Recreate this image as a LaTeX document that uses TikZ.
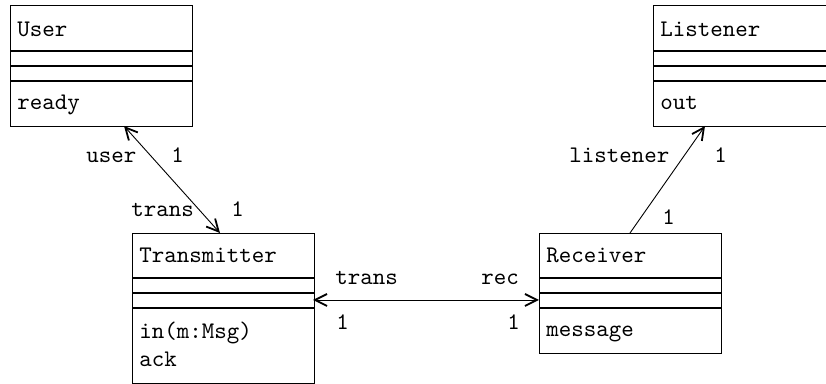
\documentclass[tikz,border=0pt]{standalone}
\usepackage{fontspec}
\newfontfamily\tentt[Extension=.otf]{lmmono10-regular}
\usetikzlibrary{arrows.meta}
\begin{document}
\begin{tikzpicture}[x=0.5pt,y=-0.5pt,
  box/.style={draw, line width=0.5pt, rectangle, inner sep=0pt, anchor=north west, minimum width=91pt},
  sep/.style={line width=0.6pt},
  txt/.style={font=\tentt\fontsize{11.9pt}{14pt}\selectfont, inner sep=0pt, anchor=base west},
  conn/.style={line width=0.45pt},
  barb/.tip={Straight Barb[length=6pt,width=6pt,line width=0.9pt]}
]
\useasboundingbox (0,0) rectangle (826,384);
\clip (0,0) rectangle (826,384);
% class boxes
\node[box, minimum height=60.5pt] (user) at (10,5) {};
\node[box, minimum height=60.5pt] (listener) at (653,5) {};
\node[box, minimum height=75pt] (trans) at (132,233) {};
\node[box, minimum height=60pt] (recv) at (539,233) {};
% compartment separators
\foreach \y in {51,66,81} {
  \draw[sep] (10,\y) -- (192,\y);
  \draw[sep] (653,\y) -- (835,\y);
}
\foreach \y in {278,293,308} {
  \draw[sep] (132,\y) -- (314,\y);
  \draw[sep] (539,\y) -- (721,\y);
}
% box texts
\node[txt] (tuser) at (17,37) {User};
\node[txt] (tready) at (17,110) {ready};
\node[txt] (tlist) at (660,37) {Listener};
\node[txt] (tout) at (660,110) {out};
\node[txt] (ttrans) at (139,263) {Transmitter};
\node[txt] (tin) at (139,339) {in(m:Msg)};
\node[txt] (tack) at (139,367) {ack};
\node[txt] (trecv) at (546,263) {Receiver};
\node[txt] (tmsg) at (546,337) {message};
% connector end points
\coordinate (ua) at (124,126);
\coordinate (tb) at (220,233);
\coordinate (ta) at (313,300);
\coordinate (rb) at (539,300);
\coordinate (ra) at (630,233);
\coordinate (lb) at (705,126);
\draw[conn, barb-barb] (ua) -- (tb);
\draw[conn, barb-barb] (ta) -- (rb);
\draw[conn, -barb] (ra) -- (lb);
% role and multiplicity labels
\node[txt] (luser) at (86,163) {user};
\node[txt] (lu1) at (171,163) {1};
\node[txt] (ltrans1) at (131,217) {trans};
\node[txt] (lt1) at (231,217) {1};
\node[txt] (ltrans2) at (335,285) {trans};
\node[txt] (lrec) at (481,285) {rec};
\node[txt] (lh1) at (336,330) {1};
\node[txt] (lh2) at (507,330) {1};
\node[txt] (llist) at (569,163) {listener};
\node[txt] (ll1) at (714,163) {1};
\node[txt] (lr1) at (662,225) {1};
\end{tikzpicture}
\end{document}
